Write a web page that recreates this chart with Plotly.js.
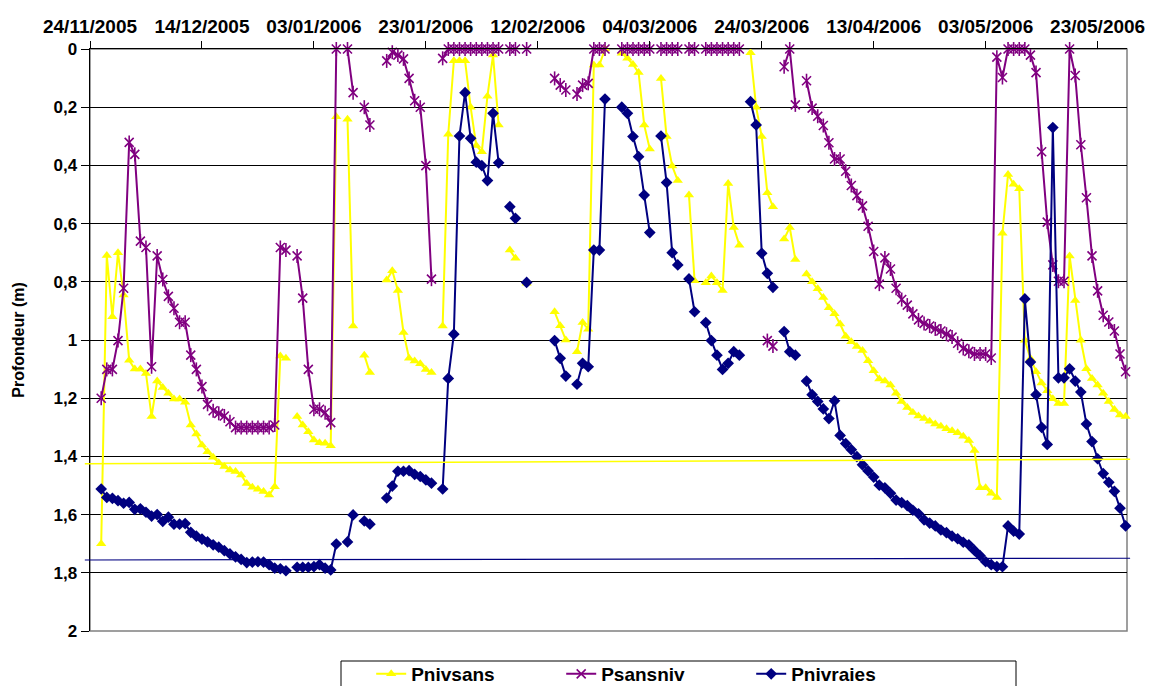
<!DOCTYPE html>
<html>
<head>
<meta charset="utf-8">
<script src="https://cdn.plot.ly/plotly-3.0.1.min.js"></script>
<style>
  html, body { margin: 0; padding: 0; background: #fff; }
  #chart { width: 1154px; height: 686px; }
</style>
</head>
<body>
<div id="chart"></div>
<script>
// First measured day is 26/11/2005; one value per day, null = no measurement
const startDate = '2005-11-26';
const axisStart = '2005-11-24';
const axisEnd = '2006-05-28 06:00';
const tickLabelsEvery20Days = ['24/11/2005','14/12/2005','03/01/2006','23/01/2006','12/02/2006','04/03/2006','24/03/2006','13/04/2006','03/05/2006','23/05/2006'];

const Pnivsans = [
  1.70, 0.71, 0.92, 0.70, 0.845, 1.07, 1.10, 1.10, 1.115, 1.263,
  1.141, 1.163, 1.183, 1.203, 1.203, 1.214, 1.292, 1.323, 1.361, 1.384,
  1.403, 1.422, 1.435, 1.447, 1.452, 1.464, 1.493, 1.506, 1.513, 1.521,
  1.533, 1.504, 1.055, 1.063, null, 1.263, 1.292, 1.315, 1.344, 1.353,
  1.355, 1.363, 0.233, null, 0.241, 0.952, null, 1.052, 1.112, null,
  null, 0.794, 0.762, 0.830, 0.974, 1.063, 1.072, 1.082, 1.101, 1.112,
  null, 0.952, 0.293, 0.040, 0.040, 0.040, 0.200, 0.332, 0.353, 0.162,
  0.021, 0.261, null, 0.691, 0.719, null, 0.805, null, null, null,
  null, 0.903, 0.951, 1.000, null, 1.040, 0.940, 0.963, 0.055, 0.055,
  0.0, null, null, 0.015, 0.032, 0.053, 0.081, 0.261, 0.344, null,
  0.101, 0.301, 0.402, 0.452, null, 0.502, 0.796, null, 0.803, 0.780,
  0.803, 0.830, 0.462, 0.613, 0.674, null, 0.013, 0.200, 0.301, 0.494,
  0.542, null, 0.653, 0.613, 0.723, null, 0.773, 0.800, 0.824, 0.854,
  0.889, 0.910, 0.945, 0.987, 1.006, 1.022, 1.036, 1.071, 1.106, 1.134,
  1.141, 1.155, 1.183, 1.211, 1.232, 1.249, 1.261, 1.270, 1.279, 1.289,
  1.296, 1.305, 1.312, 1.319, 1.331, 1.345, 1.380, 1.508, 1.508, 1.527,
  1.541, 0.633, 0.431, 0.465, 0.480, 1.001, 1.064, 1.109, 1.148, 1.174,
  1.202, 1.218, 1.218, 0.711, 0.864, 1.001, 1.099, 1.132, 1.155, 1.183,
  1.211, 1.239, 1.258, 1.263
];

const Psansniv = [
  1.200, 1.101, 1.101, 1.002, 0.822, 0.321, 0.362, 0.660, 0.682, 1.092,
  0.711, 0.792, 0.850, 0.891, 0.939, 0.939, 1.052, 1.101, 1.160, 1.221,
  1.243, 1.252, 1.261, 1.281, 1.301, 1.301, 1.301, 1.301, 1.301, 1.301,
  1.301, 1.292, 0.682, 0.691, null, 0.711, 0.856, 1.101, 1.238, 1.238,
  1.250, 1.284, 0, null, 0, 0.150, null, 0.200, 0.261, null,
  null, 0.041, 0.011, 0.021, 0.034, 0.101, 0.178, 0.200, 0.401, 0.791,
  null, 0.032, 0, 0, 0, 0, 0, 0, 0, 0,
  0, 0, null, 0, 0, null, 0, null, null, null,
  null, 0.101, 0.124, 0.141, null, 0.155, 0.124, 0.118, 0, 0,
  0, null, null, 0, 0, 0, 0, 0, 0, null,
  0, 0, 0, 0, null, 0, 0, null, 0, 0,
  0, 0, 0, 0, 0, null, null, null, null, 1.002,
  1.021, null, 0.061, 0, 0.192, null, 0.109, 0.203, 0.231, 0.263,
  0.322, 0.378, 0.378, 0.420, 0.469, 0.504, 0.539, 0.609, 0.696, 0.808,
  0.718, 0.756, 0.822, 0.861, 0.880, 0.910, 0.931, 0.943, 0.952, 0.962,
  0.969, 0.980, 0.990, 1.011, 1.029, 1.039, 1.048, 1.048, 1.048, 1.062,
  0.028, 0.098, 0, 0, 0, 0, 0.021, 0.081, 0.353, 0.595,
  0.742, 0.798, 0.798, 0, 0.091, 0.329, 0.511, 0.711, 0.831, 0.915,
  0.938, 0.969, 1.048, 1.109
];

const Pnivraies = [
  1.512, 1.541, 1.544, 1.552, 1.561, 1.558, 1.582, 1.580, 1.592, 1.605,
  1.600, 1.623, 1.609, 1.633, 1.633, 1.631, 1.661, 1.674, 1.684, 1.694,
  1.704, 1.712, 1.724, 1.735, 1.745, 1.754, 1.765, 1.763, 1.762, 1.763,
  1.772, 1.784, 1.786, 1.793, null, 1.781, 1.781, 1.781, 1.779, 1.772,
  1.784, 1.790, 1.701, null, 1.694, 1.601, null, 1.622, 1.633, null,
  null, 1.543, 1.502, 1.451, 1.451, 1.449, 1.462, 1.469, 1.481, 1.492,
  null, 1.512, 1.132, 0.980, 0.299, 0.150, 0.307, 0.389, 0.401, 0.452,
  0.221, 0.391, null, 0.542, 0.582, null, 0.802, null, null, null,
  null, 1.002, 1.063, 1.124, null, 1.152, 1.080, 1.092, 0.691, 0.691,
  0.172, null, null, 0.200, 0.221, 0.301, 0.370, 0.502, 0.631, null,
  0.299, 0.459, 0.700, 0.742, null, 0.790, 0.903, null, 0.940, 1.002,
  1.052, 1.101, 1.080, 1.040, 1.052, null, 0.181, 0.261, 0.702, 0.771,
  0.819, null, 0.971, 1.040, 1.052, null, 1.141, 1.188, 1.211, 1.237,
  1.270, 1.209, 1.328, 1.356, 1.377, 1.401, 1.429, 1.450, 1.471, 1.499,
  1.508, 1.527, 1.550, 1.559, 1.569, 1.585, 1.597, 1.618, 1.629, 1.639,
  1.653, 1.662, 1.674, 1.683, 1.695, 1.704, 1.723, 1.741, 1.762, 1.772,
  1.779, 1.779, 1.639, 1.657, 1.667, 0.859, 1.076, 1.188, 1.300, 1.359,
  0.270, 1.130, 1.130, 1.099, 1.141, 1.179, 1.289, 1.349, 1.408, 1.459,
  1.489, 1.520, 1.578, 1.639
];

// horizontal reference lines (left value, right value)
const refPnivsans = [1.425, 1.41];
const refPnivraies = [1.756, 1.75];

// daily dates
const dates = Pnivsans.map((_, i) => {
  const d = new Date(startDate + 'T00:00:00Z');
  d.setUTCDate(d.getUTCDate() + i);
  return d.toISOString().slice(0, 10);
});

const FONT = 'Liberation Sans, Arial, sans-serif';

const traces = [
  {
    x: dates, y: Pnivsans, name: 'Pnivsans', type: 'scatter', mode: 'lines+markers',
    line: {color: '#FFFF00', width: 2},
    marker: {symbol: 'triangle-up', size: 9, color: '#FFFF00'},
    connectgaps: false, cliponaxis: false
  },
  {
    x: dates, y: Psansniv, name: 'Psansniv', type: 'scatter', mode: 'lines+markers',
    line: {color: '#800080', width: 2},
    marker: {symbol: 'x-thin-open', size: 9, color: '#800080', line: {color: '#800080', width: 1.6}},
    connectgaps: false, cliponaxis: false
  },
  {
    x: dates, y: Psansniv, name: 'Psansniv-bar', type: 'scatter', mode: 'markers', showlegend: false,
    marker: {symbol: 'line-ns-open', size: 10, color: '#800080', line: {color: '#800080', width: 1.6}},
    cliponaxis: false, hoverinfo: 'skip'
  },
  {
    x: dates, y: Pnivraies, name: 'Pnivraies', type: 'scatter', mode: 'lines+markers',
    line: {color: '#000080', width: 2},
    marker: {symbol: 'diamond', size: 9, color: '#000080'},
    connectgaps: false, cliponaxis: false
  }
];

const layout = {
  width: 1154, height: 686,
  margin: {l: 90, r: 27, t: 49, b: 55, autoexpand: false},
  paper_bgcolor: '#ffffff', plot_bgcolor: '#ffffff',
  separators: ', ',
  font: {family: FONT, color: '#000'},
  showlegend: true,
  legend: {
    orientation: 'h', x: 0.546, xanchor: 'center',
    yref: 'container', y: (686 - 655) / 686, yanchor: 'top',
    borderwidth: 0, bgcolor: 'rgba(0,0,0,0)',
    font: {family: FONT, size: 19, weight: 'bold', color: '#000'},
    entrywidth: 145, entrywidthmode: 'pixels', traceorder: 'normal'
  },
  xaxis: {
    type: 'date', side: 'top', range: [axisStart, axisEnd],
    tick0: axisStart, dtick: 20 * 86400000, tickformat: '%d/%m/%Y',
    ticks: 'outside', ticklen: 7, tickcolor: '#000', tickwidth: 1,
    showline: true, linecolor: '#000', linewidth: 1.5,
    showgrid: false, zeroline: false,
    tickfont: {family: FONT, size: 19, weight: 'bold', color: '#000'}
  },
  yaxis: {
    range: [2, 0], dtick: 0.2, tick0: 0,
    ticks: 'outside', ticklen: 8, tickcolor: '#000', tickwidth: 1,
    showline: true, linecolor: '#000', linewidth: 1.5,
    showgrid: true, gridcolor: '#000', gridwidth: 1, zeroline: false,
    tickfont: {family: FONT, size: 17, weight: 'bold', color: '#000'},
    title: {text: 'Profondeur (m)', font: {family: FONT, size: 16, weight: 'bold', color: '#000'}, standoff: 25}
  },
  shapes: [
    {type: 'rect', xref: 'paper', yref: 'paper', x0: 0, x1: 1, y0: 0, y1: 1,
     line: {color: '#808080', width: 1.5}, layer: 'below'},
    {type: 'rect', xref: 'paper', yref: 'paper', x0: (341 - 90) / 1037, x1: (1016 - 90) / 1037,
     y0: (631 - 661) / 582, y1: (631 - 720) / 582,
     line: {color: '#000', width: 1}, fillcolor: 'rgba(0,0,0,0)'},
    {type: 'line', xref: 'paper', yref: 'y', x0: -0.005, x1: 1.003,
     y0: refPnivsans[0], y1: refPnivsans[1], line: {color: '#FFFF00', width: 1.5}},
    {type: 'line', xref: 'paper', yref: 'y', x0: -0.005, x1: 1.003,
     y0: refPnivraies[0], y1: refPnivraies[1], line: {color: '#000080', width: 1.2}}
  ]
};

Plotly.newPlot('chart', traces, layout, {displayModeBar: false, staticPlot: true});
</script>
</body>
</html>
